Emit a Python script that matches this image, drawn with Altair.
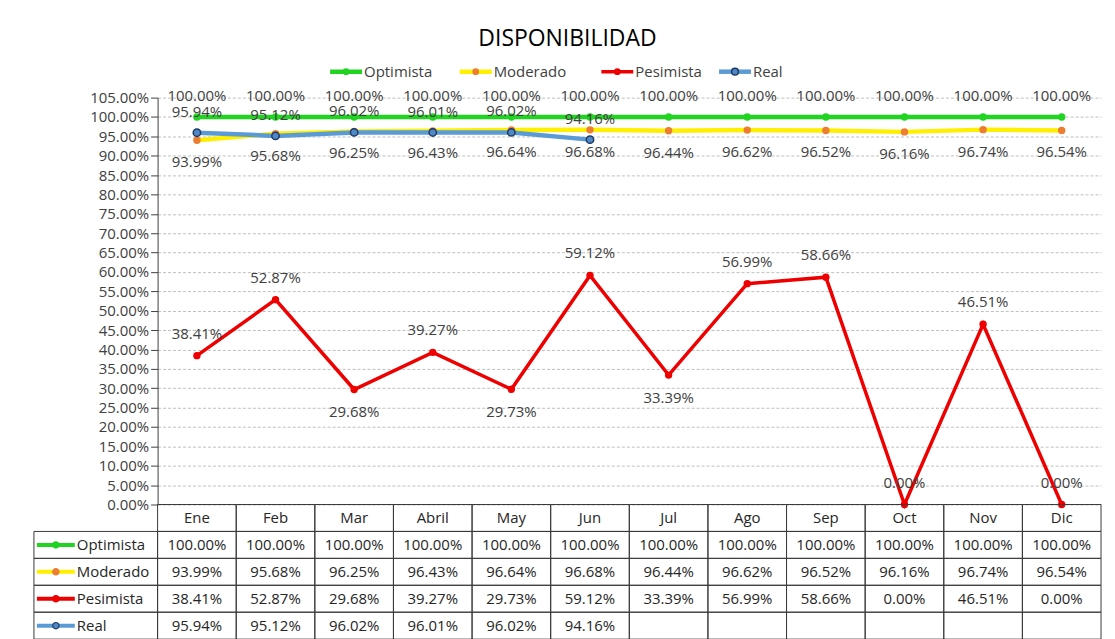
import altair as alt
import pandas as pd

months = ["Ene", "Feb", "Mar", "Abril", "May", "Jun", "Jul", "Ago", "Sep", "Oct", "Nov", "Dic"]
series_names = ["Optimista", "Moderado", "Pesimista", "Real"]
optimista = [100.00, 100.00, 100.00, 100.00, 100.00, 100.00, 100.00, 100.00, 100.00, 100.00, 100.00, 100.00]
moderado = [93.99, 95.68, 96.25, 96.43, 96.64, 96.68, 96.44, 96.62, 96.52, 96.16, 96.74, 96.54]
pesimista = [38.41, 52.87, 29.68, 39.27, 29.73, 59.12, 33.39, 56.99, 58.66, 0.00, 46.51, 0.00]
real = [95.94, 95.12, 96.02, 96.01, 96.02, 94.16]
y_ticks = [0, 5, 10, 15, 20, 25, 30, 35, 40, 45, 50, 55, 60, 65, 70, 75, 80, 85, 90, 95, 100, 105]
pesimista_below = ["Mar", "May", "Jul"]

# styles
FONT = "Open Sans"
line_colors = {"Optimista": "#22D422", "Moderado": "#FFEF00", "Pesimista": "#EE0000", "Real": "#5B9BD5"}
dot_fill = {"Optimista": "#22D422", "Moderado": "#ED7D31", "Pesimista": "#EE0000", "Real": "#4F88C6"}
dot_stroke = {"Optimista": "#22D422", "Moderado": "#ED7D31", "Pesimista": "#EE0000", "Real": "#1F3B63"}
line_width = {"Optimista": 4.5, "Moderado": 4.5, "Pesimista": 3.5, "Real": 4.5}
W, H = 946, 408
ROW_H = 27

values = {"Optimista": optimista, "Moderado": moderado, "Pesimista": pesimista, "Real": real}
rows = []
for s in series_names:
    for m, v in zip(months, values[s]):
        rows.append({"mes": m, "serie": s, "v": v / 100.0})
df = pd.DataFrame(rows)
df["below"] = df.apply(lambda r: r["serie"] == "Pesimista" and r["mes"] in pesimista_below, axis=1)

xs = alt.X("mes:N", sort=months,
           scale=alt.Scale(type="point", domain=months, padding=0.5), axis=None)
ys = alt.Y("v:Q", scale=alt.Scale(domain=[0, 1.05], nice=False, zero=True),
           axis=alt.Axis(format=".2%", values=[t / 100 for t in y_ticks], title=None,
                         grid=True, gridDash=[3, 2], gridColor="#BFBFBF", gridWidth=1,
                         domainColor="#404040", tickColor="#404040", tickSize=7,
                         labelFont=FONT, labelFontSize=15, labelColor="#404040",
                         labelPadding=2))

base = alt.Chart(df).encode(x=xs, y=ys)
layers = []
for s in series_names:
    sub = base.transform_filter(alt.datum.serie == s)
    layers.append(sub.mark_line(color=line_colors[s], strokeWidth=line_width[s]))
for s in series_names:
    sub = base.transform_filter(alt.datum.serie == s)
    sw = 1.5 if s == "Real" else 0
    layers.append(sub.mark_point(filled=True, size=55, opacity=1, fill=dot_fill[s],
                                 stroke=dot_stroke[s], strokeWidth=sw, shape="circle"))

lab_kw = dict(font=FONT, fontSize=15, color="#404040", baseline="middle")
label_dy = {"Optimista": -21, "Moderado": 22, "Real": -21}
for s in ["Optimista", "Moderado", "Real"]:
    layers.append(base.transform_filter(alt.datum.serie == s)
                  .mark_text(dy=label_dy[s], **lab_kw)
                  .encode(text=alt.Text("v:Q", format=".2%")))
layers.append(base.transform_filter((alt.datum.serie == "Pesimista") & (alt.datum.below == False))
              .mark_text(dy=-22, **lab_kw).encode(text=alt.Text("v:Q", format=".2%")))
layers.append(base.transform_filter((alt.datum.serie == "Pesimista") & (alt.datum.below == True))
              .mark_text(dy=23, **lab_kw).encode(text=alt.Text("v:Q", format=".2%")))

# legend (drawn above plot)
legend_x = [173, 303, 445, 563]
dummy = pd.DataFrame({"a": [0]})
LEG_Y = -26
for s, lx in zip(series_names, legend_x):
    layers.append(alt.Chart(dummy).mark_rule(color=line_colors[s], strokeWidth=line_width[s])
                  .encode(x=alt.value(lx), x2=alt.value(lx + 32), y=alt.value(LEG_Y)))
    layers.append(alt.Chart(dummy).mark_point(filled=True, size=45, opacity=1, fill=dot_fill[s],
                                              stroke=dot_stroke[s],
                                              strokeWidth=1.5 if s == "Real" else 0)
                  .encode(x=alt.value(lx + 16), y=alt.value(LEG_Y)))
    layers.append(alt.Chart(dummy).mark_text(align="left", font=FONT, fontSize=15, color="#404040",
                                             baseline="middle", text=s)
                  .encode(x=alt.value(lx + 34), y=alt.value(LEG_Y)))

top = alt.layer(*layers).properties(width=W, height=H)

# ---- data table ----
table_rows = ["hdr"] + series_names
cells = []
for m in months:
    cells.append({"mes": m, "fila": "hdr", "txt": m})
for s in series_names:
    vals = values[s]
    for i, m in enumerate(months):
        t = f"{vals[i]:.2f}%" if i < len(vals) else ""
        cells.append({"mes": m, "fila": s, "txt": t})
cells = pd.DataFrame(cells)

tx_scale = alt.Scale(type="band", domain=months, paddingInner=0, paddingOuter=0)
ty_scale = alt.Scale(type="band", domain=table_rows, paddingInner=0, paddingOuter=0)
rect_x = alt.X("mes:N", sort=months, scale=tx_scale, axis=None)
rect_y = alt.Y("fila:N", sort=table_rows, scale=ty_scale, axis=None)
mid_x = alt.X("mes:N", sort=months, scale=tx_scale, axis=None, bandPosition=0.5)
mid_y = alt.Y("fila:N", sort=table_rows, scale=ty_scale, axis=None, bandPosition=0.5)

BORDER = "#3A3A3A"
t_rect = alt.Chart(cells).mark_rect(fill="white", fillOpacity=0, stroke=BORDER, strokeWidth=1).encode(
    x=rect_x, y=rect_y)
t_text = alt.Chart(cells).mark_text(font=FONT, fontSize=15, color="#262626", baseline="middle").encode(
    x=mid_x, y=mid_y, text="txt:N")

lab_df = pd.DataFrame({"fila": series_names})
color_line = alt.Color("fila:N", scale=alt.Scale(domain=series_names,
                                                 range=[line_colors[s] for s in series_names]), legend=None)
lab_rect = alt.Chart(lab_df).mark_rect(fill="white", fillOpacity=0, stroke=BORDER, strokeWidth=1).encode(
    x=alt.value(-124), x2=alt.value(0), y=rect_y)
lab_rule = alt.Chart(lab_df).mark_rule(strokeWidth=4).encode(
    x=alt.value(-121), x2=alt.value(-83), y=mid_y, color=color_line)
lab_dot = alt.Chart(lab_df).mark_point(filled=True, size=40, opacity=1, shape="circle").encode(
    x=alt.value(-102), y=mid_y,
    fill=alt.Fill("fila:N", scale=alt.Scale(domain=series_names,
                                            range=[dot_fill[s] for s in series_names]), legend=None),
    stroke=alt.Stroke("fila:N", scale=alt.Scale(domain=series_names,
                                                range=[dot_stroke[s] for s in series_names]), legend=None),
    strokeWidth=alt.value(1.2))
lab_text = alt.Chart(lab_df).mark_text(align="left", font=FONT, fontSize=15, color="#262626",
                                       baseline="middle").encode(
    x=alt.value(-81), y=mid_y, text="fila:N")

table = alt.layer(t_rect, t_text, lab_rect, lab_rule, lab_dot, lab_text).properties(
    width=W, height=ROW_H * len(table_rows))

chart = alt.vconcat(top, table, spacing=0, bounds="flush").properties(
    title=alt.TitleParams("DISPONIBILIDAD", font=FONT, fontSize=23, fontWeight="normal",
                          color="#000000", anchor="middle", offset=14),
    padding={"left": 25, "top": 19, "right": 5, "bottom": 0},
).configure_view(stroke=None).configure_concat(spacing=0).resolve_scale(color="independent")

chart.save("out.html", embed_options={"renderer": "svg", "actions": False})
